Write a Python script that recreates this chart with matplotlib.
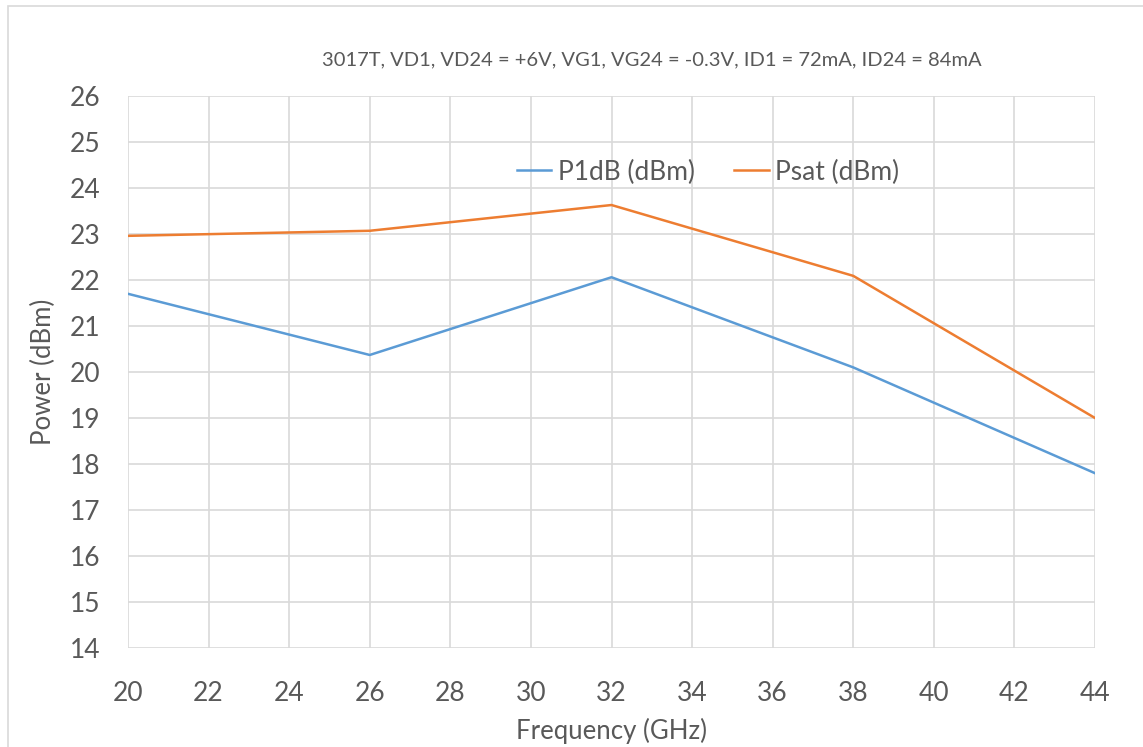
import matplotlib
matplotlib.use("Agg")
import matplotlib.pyplot as plt
from matplotlib.patches import Rectangle

freq_ghz = [20, 26, 32, 38, 44]
p1db_dbm = [21.70, 20.37, 22.06, 20.10, 17.80]
psat_dbm = [22.96, 23.07, 23.63, 22.09, 19.00]
x_ticks = list(range(20, 45, 2))
y_ticks = list(range(14, 27, 1))
title = "3017T, VD1, VD24 = +6V, VG1, VG24 = -0.3V, ID1 = 72mA, ID24 = 84mA"

plt.rcParams['font.family'] = ['Lato', 'DejaVu Sans']
txt = '#595959'
grid = '#d9d9d9'

fig = plt.figure(figsize=(11.43, 7.47), dpi=100)
fig.patches.append(Rectangle((8/1143, -0.01), 1.0, 1 - 6/747 + 0.01,
                             transform=fig.transFigure, fill=False,
                             edgecolor=grid, linewidth=1.2))
ax = fig.add_axes([128/1143, 1 - 648/747, (1095-128)/1143, (648-96)/747])

ax.plot(freq_ghz, p1db_dbm, color='#5B9BD5', lw=1.8, label='P1dB (dBm)')
ax.plot(freq_ghz, psat_dbm, color='#ED7D31', lw=1.8, label='Psat (dBm)')

ax.set_xlim(20, 44)
ax.set_ylim(14, 26)
ax.set_xticks(x_ticks)
ax.set_yticks(y_ticks)
ax.grid(True, color=grid, lw=1.2)
ax.set_axisbelow(True)
for s in ax.spines.values():
    s.set_visible(False)
ax.tick_params(length=0, labelsize=19, colors=txt)
ax.tick_params(axis='y', pad=20)
ax.tick_params(axis='x', pad=24)

ax.set_xlabel('Frequency (GHz)', fontsize=18.5, color=txt, labelpad=8)
ax.set_ylabel('Power (dBm)', fontsize=18.5, color=txt, labelpad=10)
fig.text(652/1143, 1 - 60/747, title, ha='center', va='center',
         fontsize=14.5, color=txt)

leg = ax.legend(loc='center', bbox_to_anchor=((708-128)/967, (648-172)/552),
                ncol=2, frameon=False, fontsize=19, handlelength=1.3,
                columnspacing=1.5, handletextpad=0.25)
for t in leg.get_texts():
    t.set_color(txt)

fig.savefig('out.png', dpi=100)
